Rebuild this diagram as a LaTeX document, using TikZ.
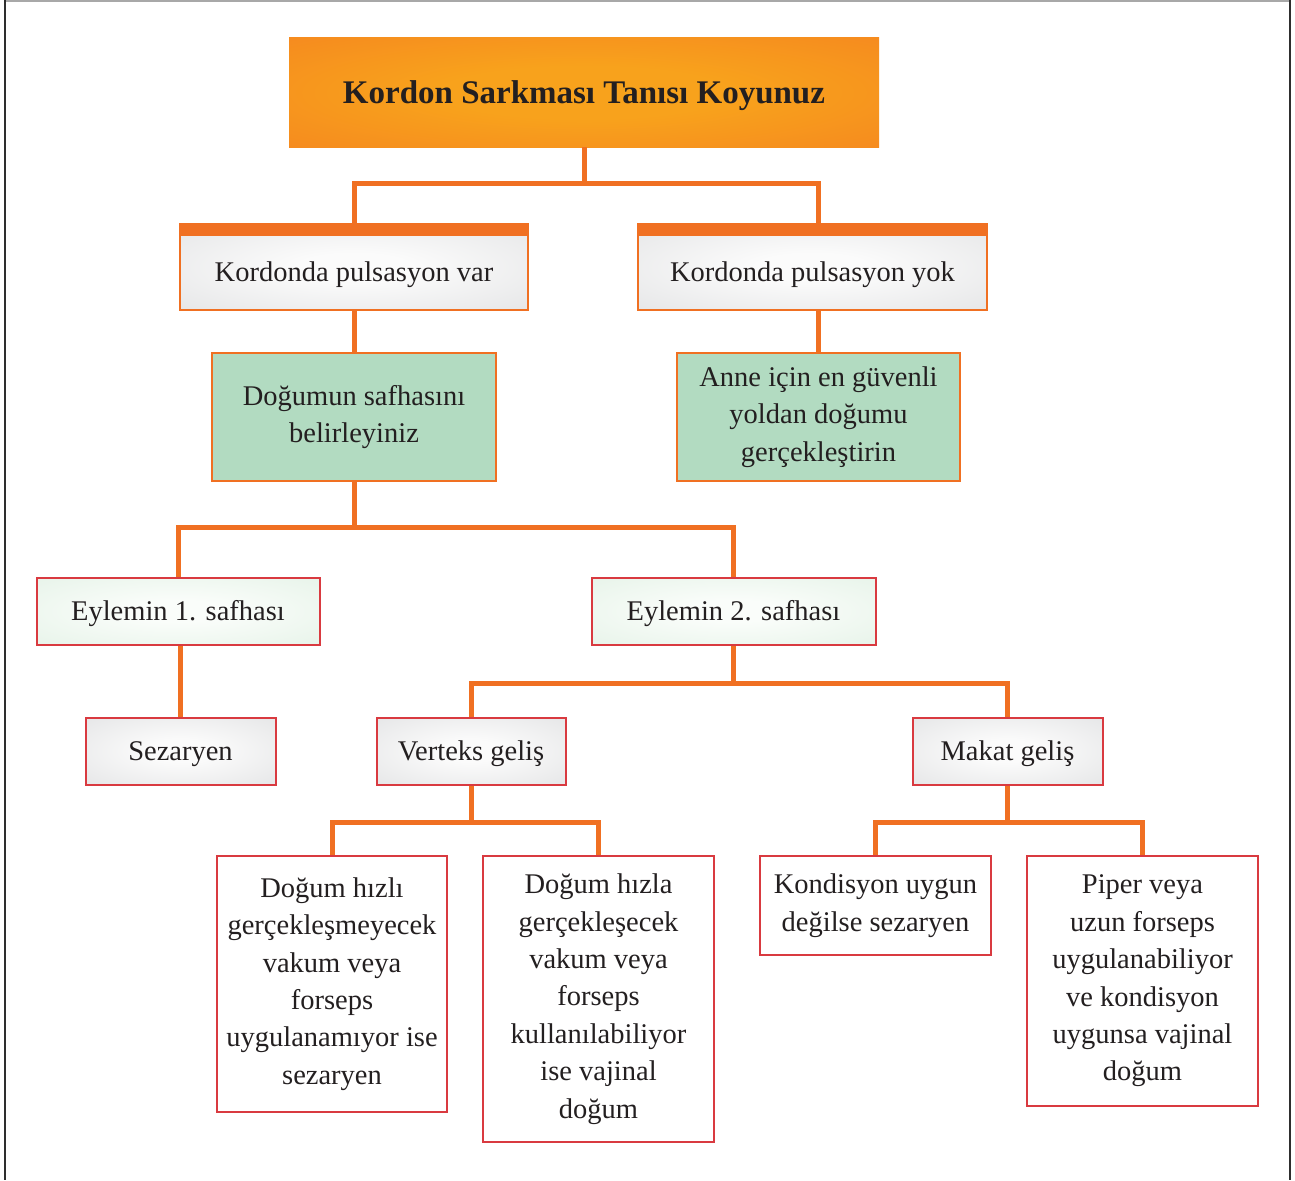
\documentclass[tikz,border=0pt]{standalone}
\usepackage{fontspec}
\setmainfont{Liberation Serif}
\usetikzlibrary{calc}

% palette
\definecolor{ink}{HTML}{231F20}
\definecolor{wire}{HTML}{F07022}
\definecolor{redline}{HTML}{D93A40}
\definecolor{mint}{HTML}{B2DBC1}
\definecolor{framedark}{HTML}{2E2E2E}
\definecolor{framegray}{HTML}{A8A8A8}
\definecolor{titlein}{HTML}{F8A21C}
\definecolor{titleout}{HTML}{F26A23}
\definecolor{grayin}{HTML}{FBFBFB}
\definecolor{grayout}{HTML}{D2D3D5}
\definecolor{palein}{HTML}{FAFDFA}
\definecolor{paleout}{HTML}{D6EBDA}

% soft radial glows spreading over the whole box
\pgfdeclareradialshading{titleglow}{\pgfpointorigin}{color(0bp)=(titlein); color(12bp)=(titlein); color(70bp)=(titleout); color(80bp)=(titleout)}
\pgfdeclareradialshading{grayglow}{\pgfpointorigin}{color(0bp)=(grayin); color(8bp)=(grayin); color(62bp)=(grayout); color(80bp)=(grayout)}
\pgfdeclareradialshading{paleglow}{\pgfpointorigin}{color(0bp)=(palein); color(8bp)=(palein); color(62bp)=(paleout); color(80bp)=(paleout)}

\newcommand\bodysize{\fontsize{28.5}{37.4}\selectfont}
\newcommand\titlesize{\fontsize{33}{40}\selectfont\bfseries}

\tikzset{
  box/.style={rectangle, inner sep=0pt, align=center, font=\bodysize, text=ink},
  oneline/.style={text height=22pt, text depth=2.5pt},
  titlebox/.style={box, shade, shading=titleglow, font=\titlesize, text height=24pt, text depth=2.4pt},
  headbox/.style={box, shade, shading=grayglow, draw=wire, line width=2.5pt, text height=28pt, text depth=0pt},
  greenbox/.style={box, fill=mint, draw=wire, line width=2.5pt},
  phasebox/.style={box, oneline, shade, shading=paleglow, draw=redline, line width=2pt},
  choicebox/.style={box, oneline, shade, shading=grayglow, draw=redline, line width=2pt},
  leafbox/.style={box, fill=white, draw=redline, line width=1.8pt},
  conn/.style={draw=wire, line width=5pt},
}

\begin{document}
\begin{tikzpicture}[x=1pt, y=-1pt]
\useasboundingbox (0,0) rectangle (1295,1180);
\fill[white] (0,0) rectangle (1295,1180);

% outer frame
\draw[framegray, line width=2pt] (5,1) -- (1289,1);
\draw[framedark, line width=2pt] (4.5,0) -- (4.5,1180);
\draw[framedark, line width=2pt] (1289.5,0) -- (1289.5,1180);

% level 0
\node[titlebox, minimum width=590pt, minimum height=109pt] (title) at (584,92.5) {Kordon Sarkması Tanısı Koyunuz};

% level 1
\node[headbox, minimum width=348pt, minimum height=86pt] (pv) at (354,267) {Kordonda pulsasyon var};
\node[headbox, minimum width=349pt, minimum height=86pt] (py) at (812.5,267) {Kordonda pulsasyon yok};
\fill[wire] (pv.north west) rectangle ($(pv.north east)+(0,13)$);
\fill[wire] (py.north west) rectangle ($(py.north east)+(0,13)$);

% level 2
\node[greenbox, minimum width=284pt, minimum height=128pt] (ds) at (354,417) {Doğumun safhasını\\belirleyiniz};
\node[greenbox, minimum width=283pt, minimum height=128pt] (ag) at (818.5,417) {Anne için en güvenli\\yoldan doğumu\\gerçekleştirin};

% level 3
\node[phasebox, minimum width=283pt, minimum height=67pt] (e1) at (178,611) {Eylemin 1. safhası};
\node[phasebox, minimum width=284pt, minimum height=67pt] (e2) at (733.5,611) {Eylemin 2. safhası};

% level 4
\node[choicebox, minimum width=190pt, minimum height=67pt] (sz) at (180.5,751) {Sezaryen};
\node[choicebox, minimum width=189pt, minimum height=67pt] (vg) at (471,751) {Verteks geliş};
\node[choicebox, minimum width=190pt, minimum height=67pt] (mg) at (1007.5,751) {Makat geliş};

% level 5
\node[leafbox, minimum width=230pt, minimum height=256pt] (l1) at (332,984) {Doğum hızlı\\gerçekleşmeyecek\\vakum veya\\forseps\\uygulanamıyor ise\\sezaryen};
\node[leafbox, minimum width=231pt, minimum height=286pt] (l2) at (598.5,999) {Doğum hızla\\gerçekleşecek\\vakum veya\\forseps\\kullanılabiliyor\\ise vajinal\\doğum};
\node[leafbox, minimum width=231pt, minimum height=99pt] (r1) at (875.5,905.5) {Kondisyon uygun\\değilse sezaryen};
\node[leafbox, minimum width=231pt, minimum height=250pt] (r2) at (1142.5,981) {Piper veya\\uzun forseps\\uygulanabiliyor\\ve kondisyon\\uygunsa vajinal\\doğum};

% connectors
\coordinate (k0) at ($(title.south)+(0,36)$);
\draw[conn] (title.south) -- (k0);
\draw[conn] (pv.north) |- (k0) -| (ag.north |- py.north);
\draw[conn] (pv.south) -- (pv.south -| ds.north) -- (ds.north);
\draw[conn] (ag.north |- py.south) -- (ag.north);

\coordinate (k1) at ($(ds.south)+(0,45)$);
\draw[conn] (ds.south) -- (k1);
\draw[conn] (e1.north) |- (k1) -| (e2.north);
\draw[conn] (sz.north |- e1.south) -- (sz.north);

\coordinate (k2) at ($(e2.south)+(0,38)$);
\draw[conn] (e2.south) -- (k2);
\draw[conn] (vg.north) |- (k2) -| (mg.north);

\coordinate (k3) at ($(vg.south)+(0,37)$);
\draw[conn] (vg.south) -- (k3);
\draw[conn] (l1.north) |- (k3) -| (l2.north);

\coordinate (k4) at ($(mg.south)+(0,37)$);
\draw[conn] (mg.south) -- (k4);
\draw[conn] (r1.north) |- (k4) -| (r2.north);
\end{tikzpicture}
\end{document}
